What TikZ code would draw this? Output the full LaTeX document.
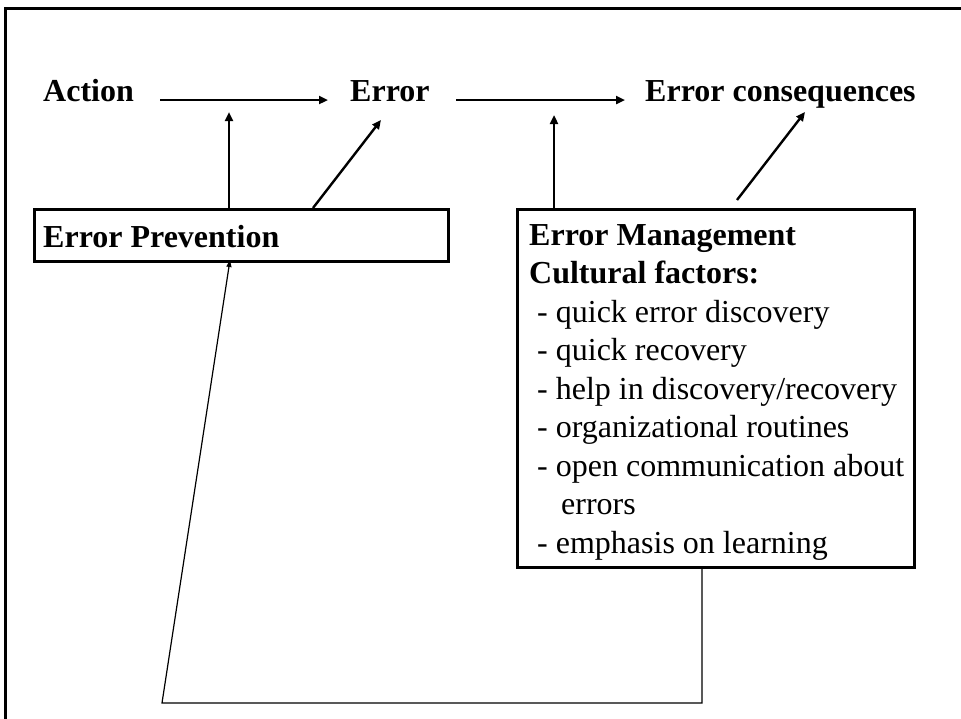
\documentclass[tikz,border=0pt]{standalone}
\usepackage{fontspec}
\setmainfont{Liberation Serif}
\usetikzlibrary{arrows.meta}
\begin{document}
\begin{tikzpicture}[x=1pt,y=-1pt,
  lbl/.style={font=\fontsize{32}{38.5}\selectfont\bfseries, inner sep=0pt, anchor=base west},
  item/.style={font=\fontsize{32}{38.5}\selectfont, inner sep=0pt, anchor=base west},
  box/.style={draw, line width=3pt, inner sep=0pt, anchor=north west},
  arr/.style={line width=2.4pt, -{Triangle[length=9pt,width=8pt]}},
  fb/.style={line width=1.2pt, -{Triangle[length=7pt,width=5pt]}}]
\useasboundingbox (0,0) rectangle (961,718);
% frame
\draw[line width=3pt] (5.5,730) -- (5.5,8.5) -- (975,8.5);
% top row
\node[lbl] (action) at (43,101) {Action};
\node[lbl] (error) at (350,101) {Error};
\node[lbl] (cons) at (645,101) {Error consequences};
% boxes
\node[box, minimum width=414pt, minimum height=52pt] (prev) at (33,208) {};
\node[lbl] (prevtxt) at (43,247) {Error Prevention};
\node[box, minimum width=397pt, minimum height=358pt] (mgmt) at (516,208) {};
\node[lbl] (m1) at (529,245) {Error Management};
\node[lbl] (m2) at (529,283.5) {Cultural factors:};
\node[item] (m3) at (537,322) {- quick error discovery};
\node[item] (m4) at (537,360.5) {- quick recovery};
\node[item] (m5) at (537,399) {- help in discovery/recovery};
\node[item] (m6) at (537,437.5) {- organizational routines};
\node[item] (m7) at (537,476) {- open communication about};
\node[item] (m8) at (561,514.5) {errors};
\node[item] (m9) at (537,553) {- emphasis on learning};
% connector points
\coordinate (h1s) at (160,100);
\coordinate (h1e) at (328,100);
\coordinate (h2s) at (456,100);
\coordinate (h2e) at (625,100);
\coordinate (v1s) at (229,208);
\coordinate (v1e) at (229,112);
\coordinate (d1s) at (313,208);
\coordinate (d1e) at (381,120);
\coordinate (v2s) at (554,208);
\coordinate (v2e) at (554,115);
\coordinate (d2s) at (737,200);
\coordinate (d2e) at (805,112);
\coordinate (f0) at (702,566);
\coordinate (f1) at (702,703);
\coordinate (f2) at (162,703);
\coordinate (f3) at (230,260);
% arrows
\draw[arr] (h1s) -- (h1e);
\draw[arr] (h2s) -- (h2e);
\draw[arr] (v1s) -- (v1e);
\draw[arr] (d1s) -- (d1e);
\draw[arr] (v2s) -- (v2e);
\draw[arr] (d2s) -- (d2e);
\draw[fb] (f0) -- (f1) -- (f2) -- (f3);
\end{tikzpicture}
\end{document}
